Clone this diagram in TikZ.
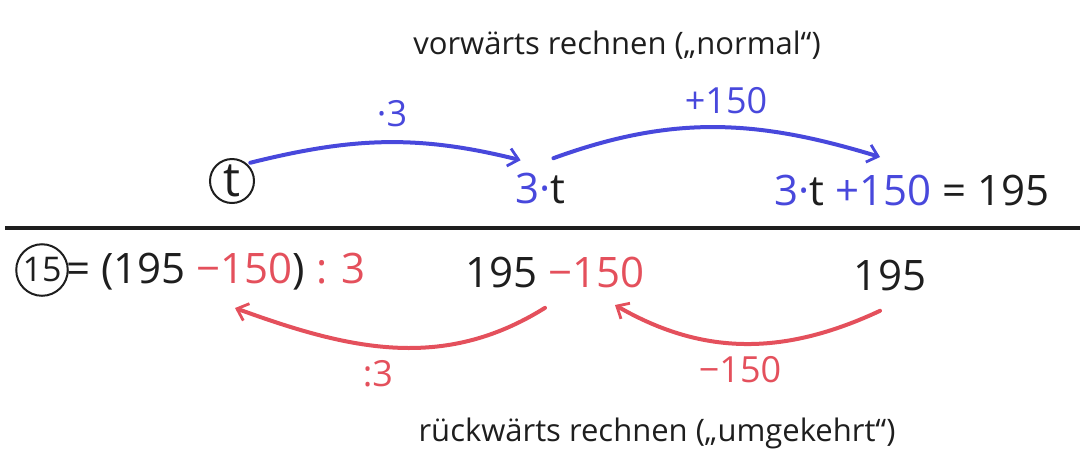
\documentclass[tikz,border=0pt]{standalone}
\usepackage{fontspec}
\setmainfont{Open Sans}
\usetikzlibrary{arrows.meta,calc}
\definecolor{penblue}{RGB}{72,72,220}
\definecolor{penred}{RGB}{228,80,92}
\definecolor{penblack}{RGB}{30,30,30}
\begin{document}
\begin{tikzpicture}[x=0.5pt,y=-0.5pt,
  math/.style={font=\fontsize{21}{25}\selectfont,text=penblack,inner sep=1pt},
  lbl/.style={font=\fontsize{18}{22}\selectfont,inner sep=1pt},
  title/.style={font=\fontsize{15.5}{19}\selectfont,text=penblack},
  ring/.style={circle,draw=penblack,line width=1pt,inner sep=0pt},
  bluearrow/.style={draw=penblue,line width=2pt,line cap=round,-{Straight Barb[length=5pt,width=9pt,line width=1.4pt]}},
  redarrow/.style={draw=penred,line width=2pt,line cap=round,-{Straight Barb[length=5pt,width=9pt,line width=1.4pt]}}]
\useasboundingbox (0,0) rectangle (1080,463);
% titles
\node[title] (top) at (617,45) {vorwärts rechnen („normal“)};
\node[title] (bot) at (657,433) {rückwärts rechnen („umgekehrt“)};
% top row
\node[ring,math,minimum size=22pt,font=\fontsize{24}{28}\selectfont] (t) at (232,181) {t};
\node[math] (n1) at (540,188) {\textcolor{penblue}{3·}t};
\node[math] (n2) at (912,190) {\textcolor{penblue}{3·}t \textcolor{penblue}{+150} = 195};
\coordinate (e2) at (880,157);
\draw[bluearrow] ($(t.north east)+(2,-2)$) to[out=14,in=166] ($(n1.north west)+(8,-10)$);
\draw[bluearrow] ($(n1.north east)+(-14,-12)$) to[out=20,in=163] (e2);
\node[lbl,text=penblue] (l1) at (392,114) {·3};
\node[lbl,text=penblue] (l2) at (726,101) {+150};
% separator
\coordinate (sl) at (5,228);
\coordinate (sr) at (1080,228);
\draw[penblack,line width=1.8pt] (sl) -- (sr);
% bottom row
\node[ring,math,minimum size=20pt,font=\fontsize{17}{20}\selectfont] (c15) at (42,270) {15};
\node[math,anchor=west] (eq) at (64,272) {= (195 \textcolor{penred}{−150}) \textcolor{penred}{: 3}};
\node[math] (n3) at (555,272) {195 \textcolor{penred}{−150}};
\node[math] (n4) at (890,275) {195};
\coordinate (e3) at (235,308);
\coordinate (e4) at (615,305);
\draw[redarrow] ($(n3.south)+(-10,18)$) to[out=212,in=340] (e3);
\draw[redarrow] ($(n4.south)+(-10,18)$) to[out=205,in=330] (e4);
\node[lbl,text=penred] (l3) at (378,374) {:3};
\node[lbl,text=penred] (l4) at (740,370) {−150};
\end{tikzpicture}
\end{document}
